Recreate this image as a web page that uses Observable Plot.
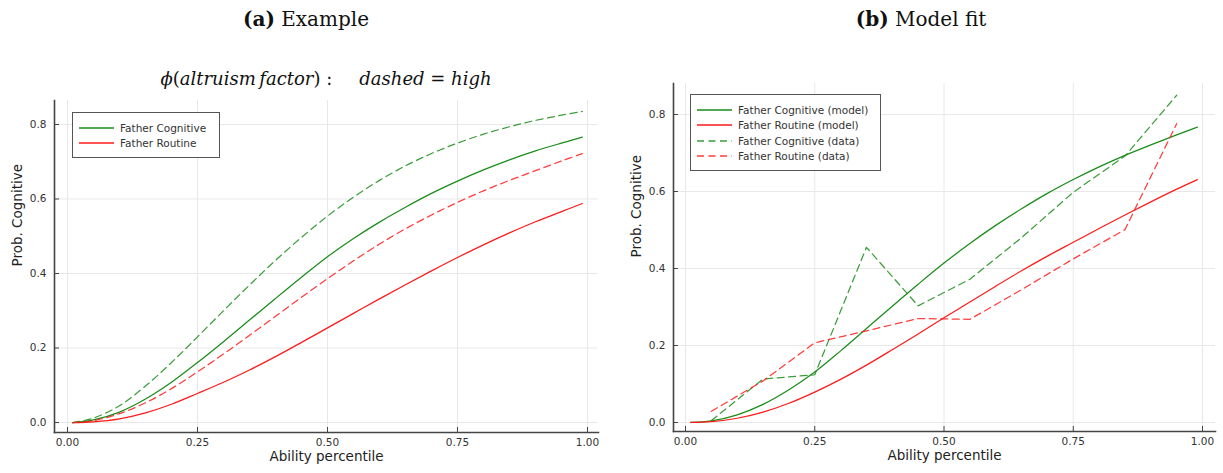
<!DOCTYPE html>
<html>
<head>
<meta charset="utf-8">
<script src="https://cdn.jsdelivr.net/npm/d3@7"></script>
<script src="https://cdn.jsdelivr.net/npm/@observablehq/plot@0.6"></script>
<style>
  html, body { margin: 0; padding: 0; background: #fff; }
  #root { position: relative; width: 1223px; height: 473px; overflow: hidden; font-family: "DejaVu Sans", sans-serif; }
  .abs { position: absolute; }
  .title { font-family: "DejaVu Serif", serif; font-size: 20px; color: #111; white-space: nowrap; transform: translateX(-50%); }
  .sub { font-family: "DejaVu Serif", serif; font-size: 18px; color: #111; white-space: nowrap; transform: translateX(-50%); }
  .legend { background: #fff; border: 1px solid #555; box-sizing: border-box; }
</style>
</head>
<body>
<div id="root"></div>
<script>
// ---------- data ----------
const xTicks = [0, 0.25, 0.5, 0.75, 1];
const yTicks = [0, 0.2, 0.4, 0.6, 0.8];

const abilityGrid = [0.01,0.05,0.10,0.15,0.20,0.25,0.30,0.35,0.40,0.45,0.50,0.55,0.60,0.65,0.70,0.75,0.80,0.85,0.90,0.95,0.99];

// Panel (a): Example (solid = low altruism, dashed = high altruism)
const exCogLow   = [0,0.007,0.028,0.063,0.108,0.161,0.217,0.275,0.333,0.39,0.445,0.494,0.538,0.578,0.615,0.648,0.678,0.705,0.729,0.75,0.766];
const exCogHigh  = [0,0.012,0.045,0.098,0.161,0.23,0.30,0.369,0.435,0.497,0.554,0.605,0.65,0.689,0.722,0.75,0.774,0.794,0.811,0.825,0.835];
const exRoutLow  = [0,0.002,0.010,0.026,0.049,0.078,0.108,0.141,0.177,0.215,0.254,0.293,0.332,0.37,0.407,0.443,0.477,0.509,0.539,0.566,0.588];
const exRoutHigh = [0,0.005,0.024,0.053,0.091,0.136,0.184,0.234,0.285,0.336,0.386,0.434,0.479,0.52,0.557,0.591,0.622,0.65,0.676,0.702,0.722];

// Panel (b): Model fit
const fitCogModel  = [0,0.004,0.02,0.047,0.085,0.131,0.186,0.244,0.302,0.359,0.414,0.465,0.512,0.555,0.595,0.631,0.664,0.694,0.721,0.747,0.767];
const fitRoutModel = [0,0.002,0.011,0.027,0.05,0.079,0.112,0.149,0.189,0.23,0.272,0.313,0.354,0.394,0.432,0.468,0.504,0.539,0.573,0.606,0.631];
const dataBins     = [0.05,0.15,0.25,0.35,0.45,0.55,0.65,0.75,0.85,0.95];
const fitCogData   = [0.005,0.113,0.124,0.455,0.303,0.372,0.48,0.598,0.692,0.85];
const fitRoutData  = [0.029,0.108,0.207,0.238,0.27,0.268,0.345,0.425,0.501,0.776];

const legendA = ["Father Cognitive", "Father Routine"];
const legendB = ["Father Cognitive (model)", "Father Routine (model)", "Father Cognitive (data)", "Father Routine (data)"];

const GREEN = "#1a8c1a", RED = "#ff1a1a";

// ---------- helpers ----------
const toRows = (xs, ys) => xs.map((x, i) => ({x, y: ys[i]}));

function panel({width, height, margins, xDomain, yDomain, series}) {
  const [mt, mr, mb, ml] = margins;
  const innerW = width - ml - mr, innerH = height - mt - mb;
  return Plot.plot({
    width, height,
    marginTop: mt, marginRight: mr, marginBottom: mb, marginLeft: ml,
    style: {fontFamily: "DejaVu Sans, sans-serif", fontSize: "10.5px", color: "#333", background: "transparent"},
    x: {domain: xDomain},
    y: {domain: yDomain},
    marks: [
      Plot.gridX(xTicks, {stroke: "#e8e8e8", strokeOpacity: 1}),
      Plot.gridY(yTicks, {stroke: "#e8e8e8", strokeOpacity: 1}),
      ...series.map(s => Plot.line(s.rows, {x: "x", y: "y", stroke: s.color, strokeWidth: 1.25,
        strokeDasharray: s.dashed ? "7,4.5" : null, strokeOpacity: s.dashed ? 0.85 : 1, curve: s.curve || "catmull-rom"})),
      Plot.frame({anchor: "left", stroke: "#444", strokeWidth: 1.6}),
      Plot.frame({anchor: "bottom", stroke: "#444", strokeWidth: 1.6}),
      Plot.tickX(xTicks, {x: d => d, stroke: "#444", insetTop: innerH - 5}),
      Plot.tickY(yTicks, {y: d => d, stroke: "#444", insetRight: innerW - 5}),
      Plot.axisX(xTicks, {tickFormat: d3.format(".2f"), tickSize: 0, tickPadding: 6, label: null}),
      Plot.axisY(yTicks, {tickFormat: d3.format(".1f"), tickSize: 0, tickPadding: 8, label: null}),
      Plot.text(["Ability percentile"], {frameAnchor: "bottom", dy: 28, fontSize: 13.5, fill: "#222"}),
      Plot.text(["Prob. Cognitive"], {frameAnchor: "left", rotate: -90, dx: -37, fontSize: 13.5, fill: "#222"})
    ]
  });
}

function legend(labels, styles, left, top, width, height, rowYs) {
  const div = document.createElement("div");
  div.className = "abs legend";
  Object.assign(div.style, {left: left + "px", top: top + "px", width: width + "px", height: height + "px"});
  const ns = "http://www.w3.org/2000/svg";
  const svg = document.createElementNS(ns, "svg");
  svg.setAttribute("width", width - 2); svg.setAttribute("height", height - 2);
  svg.style.position = "absolute"; svg.style.left = "0"; svg.style.top = "0";
  labels.forEach((lab, i) => {
    const y = rowYs[i];
    const ln = document.createElementNS(ns, "line");
    ln.setAttribute("x1", 6); ln.setAttribute("x2", 41); ln.setAttribute("y1", y); ln.setAttribute("y2", y);
    ln.setAttribute("stroke", styles[i].color); ln.setAttribute("stroke-width", 1.3);
    if (styles[i].dashed) { ln.setAttribute("stroke-dasharray", "7,4.5"); ln.setAttribute("stroke-opacity", 0.85); }
    svg.appendChild(ln);
    const t = document.createElementNS(ns, "text");
    t.setAttribute("x", 47); t.setAttribute("y", y); t.setAttribute("dy", "0.35em");
    t.setAttribute("font-family", "DejaVu Sans, sans-serif"); t.setAttribute("font-size", "10.5px"); t.setAttribute("fill", "#333");
    t.textContent = lab;
    svg.appendChild(t);
  });
  div.appendChild(svg);
  return div;
}

const root = document.getElementById("root");
function place(el, left, top) { el.style.position = "absolute"; el.style.left = left + "px"; el.style.top = top + "px"; root.appendChild(el); }
function html(cls, inner, left, top) { const d = document.createElement("div"); d.className = "abs " + cls; d.innerHTML = inner; d.style.left = left + "px"; d.style.top = top + "px"; root.appendChild(d); }

// Panel (a)
const plotA = panel({
  width: 612, height: 378, margins: [5, 14, 41, 54],
  xDomain: [-0.025, 1.0212], yDomain: [-0.0268, 0.8644],
  series: [
    {rows: toRows(abilityGrid, exCogLow), color: GREEN},
    {rows: toRows(abilityGrid, exRoutLow), color: RED},
    {rows: toRows(abilityGrid, exCogHigh), color: GREEN, dashed: true},
    {rows: toRows(abilityGrid, exRoutHigh), color: RED, dashed: true}
  ]
});
place(plotA, 0, 95);

// Panel (b)
const plotB = panel({
  width: 611, height: 395, margins: [5, 8, 42, 61],
  xDomain: [-0.0232, 1.0251], yDomain: [-0.0234, 0.8805],
  series: [
    {rows: toRows(abilityGrid, fitCogModel), color: GREEN},
    {rows: toRows(abilityGrid, fitRoutModel), color: RED},
    {rows: toRows(dataBins, fitCogData), color: GREEN, dashed: true, curve: "linear"},
    {rows: toRows(dataBins, fitRoutData), color: RED, dashed: true, curve: "linear"}
  ]
});
place(plotB, 612, 78);

// Titles
html("title", "<b>(a)</b> Example", 306, 7);
html("title", "<b>(b)</b> Model fit", 921, 7);
html("sub", "<i>ϕ</i>(<i>altruism&#8201;factor</i>) :&emsp;&ensp;<i>dashed</i> = <i>high</i>", 326, 68);

// Legends
root.appendChild(legend(legendA, [{color: GREEN}, {color: RED}], 72, 112, 148, 46, [15, 30]));
root.appendChild(legend(legendB, [{color: GREEN}, {color: RED}, {color: GREEN, dashed: true}, {color: RED, dashed: true}], 690, 94, 191, 77, [15, 30, 46, 61]));
</script>
</body>
</html>
